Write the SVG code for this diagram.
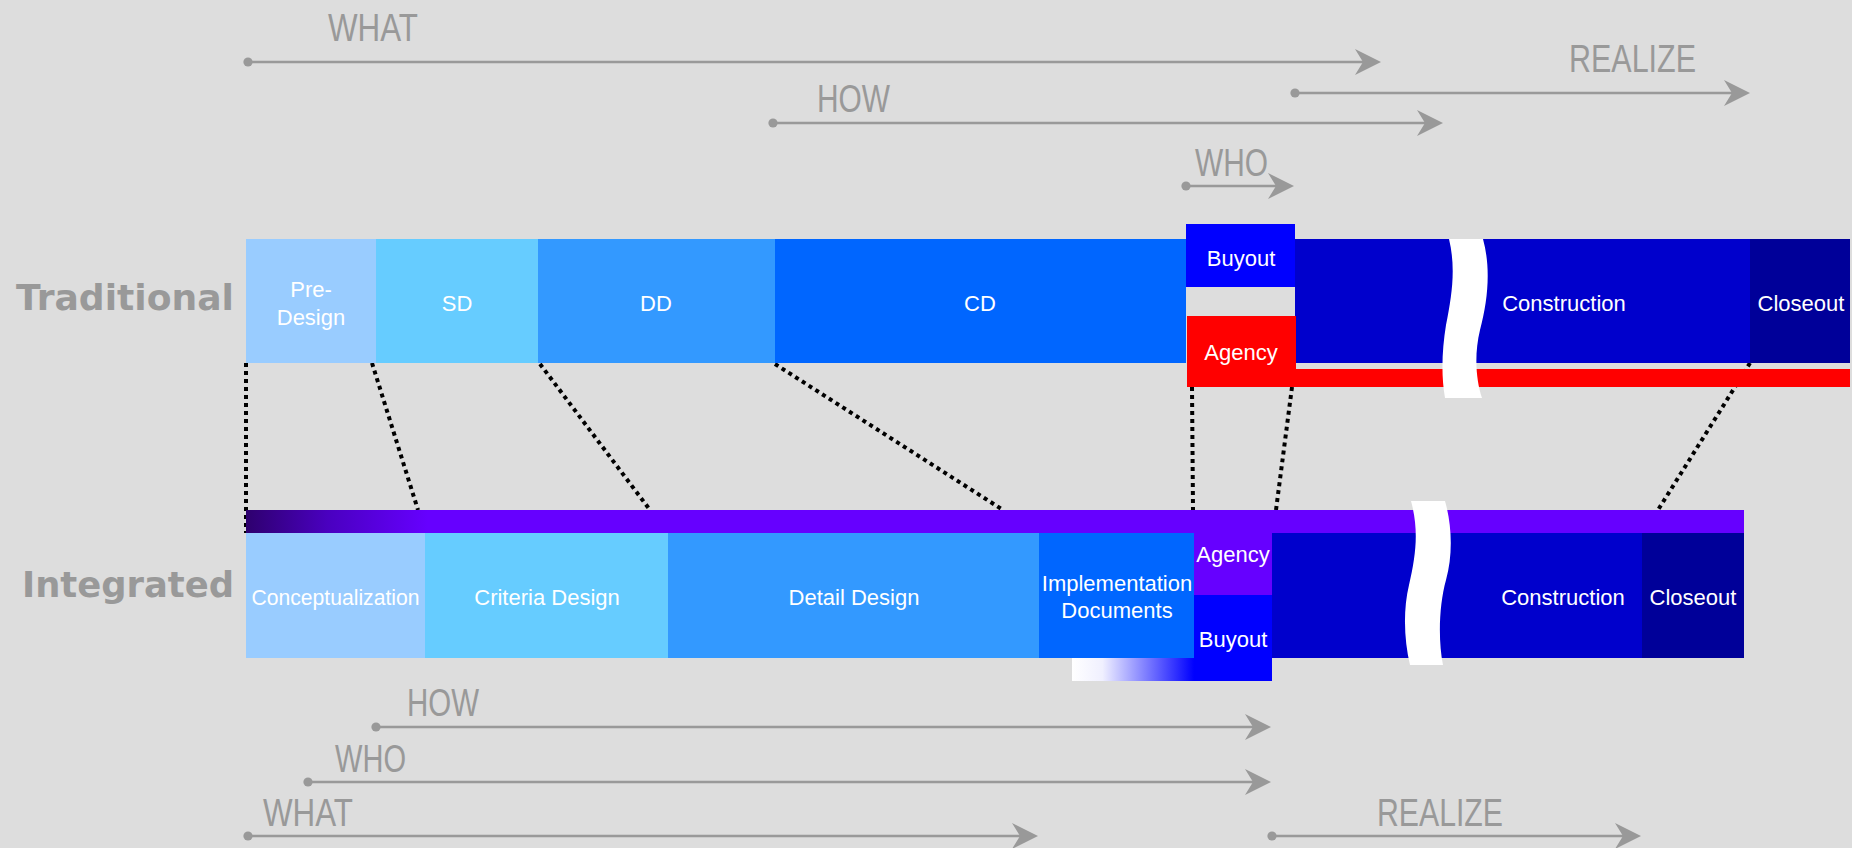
<svg xmlns="http://www.w3.org/2000/svg" width="1852" height="848" viewBox="0 0 1852 848">
<style>
.bg{fill:#DDDDDD}
.dot{fill:none;stroke:#000;stroke-width:4;stroke-dasharray:4 4}
.tl{fill:none;stroke:#999999;stroke-width:2.6;marker-start:url(#dotm);marker-end:url(#arr)}
.tlt{font-family:"Liberation Sans",Arial,sans-serif;font-size:38px;fill:#999999}
.big{font-family:"DejaVu Sans",sans-serif;font-weight:bold;font-size:36px;fill:#999999}
.lb{font-family:"Liberation Sans",Arial,sans-serif;font-size:22px;fill:#FFFFFF;text-anchor:middle}
.brk{fill:#FFFFFF}
</style>
<defs>
<marker id="arr" markerUnits="userSpaceOnUse" viewBox="-27 -14 28 28" markerWidth="28" markerHeight="28" refX="-16" refY="0" orient="auto">
<path d="M0,0 L-26,-13 L-18,0 L-26,13 Z" fill="#999999"/>
</marker>
<marker id="dotm" markerUnits="userSpaceOnUse" viewBox="-6 -6 12 12" markerWidth="12" markerHeight="12" refX="0" refY="0" orient="auto">
<circle cx="0" cy="0" r="4.6" fill="#999999"/>
</marker>
<linearGradient id="purpleGrad" gradientUnits="userSpaceOnUse" x1="246" y1="0" x2="428" y2="0">
<stop offset="0" stop-color="#2E006E"/>
<stop offset="0.45" stop-color="#4A00C0"/>
<stop offset="1" stop-color="#6600FF"/>
</linearGradient>
<linearGradient id="blueGrad" gradientUnits="userSpaceOnUse" x1="1072" y1="0" x2="1194" y2="0">
<stop offset="0" stop-color="#FFFFFF"/>
<stop offset="0.25" stop-color="#F0F0FF"/>
<stop offset="1" stop-color="#0000FF"/>
</linearGradient>
</defs>
<rect class="bg" x="0" y="0" width="1852" height="848"/>

<g id="connectors">
<line class="dot" x1="246" y1="363" x2="246" y2="533"/>
<line class="dot" x1="372" y1="363" x2="418" y2="510"/>
<line class="dot" x1="540" y1="364" x2="650" y2="510"/>
<line class="dot" x1="775" y1="364" x2="1003" y2="510"/>
<line class="dot" x1="1192" y1="387" x2="1193" y2="510"/>
<line class="dot" x1="1292" y1="387" x2="1276" y2="510"/>
<line class="dot" x1="1750" y1="363" x2="1658" y2="510"/>

<g id="timeline-top">
<line class="tl" x1="248" y1="62" x2="1365" y2="62"/>
<text class="tlt" x="328" y="41" textLength="90" lengthAdjust="spacingAndGlyphs">WHAT</text>
<line class="tl" x1="773" y1="123" x2="1427" y2="123"/>
<text class="tlt" x="817" y="112" textLength="73" lengthAdjust="spacingAndGlyphs">HOW</text>
<line class="tl" x1="1295" y1="93" x2="1734" y2="93"/>
<text class="tlt" x="1569" y="72" textLength="127" lengthAdjust="spacingAndGlyphs">REALIZE</text>
<line class="tl" x1="1186" y1="186" x2="1278" y2="186"/>
<text class="tlt" x="1195" y="176" textLength="73" lengthAdjust="spacingAndGlyphs">WHO</text>
</g>
<g id="timeline-bottom">
<line class="tl" x1="376" y1="727" x2="1255" y2="727"/>
<text class="tlt" x="407" y="716" textLength="72" lengthAdjust="spacingAndGlyphs">HOW</text>
<line class="tl" x1="308" y1="782" x2="1255" y2="782"/>
<text class="tlt" x="335" y="772" textLength="71" lengthAdjust="spacingAndGlyphs">WHO</text>
<line class="tl" x1="248" y1="836" x2="1022" y2="836"/>
<text class="tlt" x="263" y="826" textLength="90" lengthAdjust="spacingAndGlyphs">WHAT</text>
<line class="tl" x1="1272" y1="836" x2="1625" y2="836"/>
<text class="tlt" x="1377" y="826" textLength="126" lengthAdjust="spacingAndGlyphs">REALIZE</text>
</g>
</g>

<g id="traditional">
<text class="big" x="16" y="310" textLength="218" lengthAdjust="spacingAndGlyphs">Traditional</text>
<g id="t-predesign"><rect x="246" y="239" width="130" height="124" fill="#99CCFF"/>
<text class="lb" x="311" y="297">Pre-</text><text class="lb" x="311" y="325">Design</text></g>
<g id="t-sd"><rect x="376" y="239" width="162" height="124" fill="#66CCFF"/><text class="lb" x="457" y="311">SD</text></g>
<g id="t-dd"><rect x="538" y="239" width="237" height="124" fill="#3399FF"/><text class="lb" x="656" y="311">DD</text></g>
<g id="t-cd"><rect x="775" y="239" width="411" height="124" fill="#0066FF"/><text class="lb" x="980" y="311">CD</text></g>
<g id="t-buyout"><rect x="1186" y="224" width="109" height="63" fill="#0000FF"/><text class="lb" x="1241" y="266">Buyout</text></g>
<g id="t-construction"><rect x="1295" y="239" width="455" height="124" fill="#0000CC"/><text class="lb" x="1564" y="311">Construction</text></g>
<g id="t-closeout"><rect x="1750" y="239" width="100" height="124" fill="#000099"/><text class="lb" x="1801" y="311">Closeout</text></g>
<g id="t-agency"><rect x="1187" y="316" width="109" height="71" fill="#FF0000"/><rect x="1296" y="369" width="554" height="18" fill="#FF0000"/>
<text class="lb" x="1241" y="360">Agency</text></g>
<path id="t-break" class="brk" d="M1449,239 L1483,239 C1491,268 1488,300 1480,330 C1474,355 1476,380 1482,398 L1445,398 C1441,375 1442,350 1446,325 C1452,295 1456,268 1449,239 Z"/>
</g>

<g id="integrated">
<text class="big" x="22" y="597" textLength="212" lengthAdjust="spacingAndGlyphs">Integrated</text>
<g id="i-topbar"><rect x="246" y="510" width="1498" height="23" fill="#6600FF"/><rect x="246" y="510" width="190" height="23" fill="url(#purpleGrad)"/></g>
<g id="i-conceptualization"><rect x="246" y="533" width="179" height="125" fill="#99CCFF"/><text class="lb" x="335.5" y="605" textLength="168" lengthAdjust="spacingAndGlyphs">Conceptualization</text></g>
<g id="i-criteria"><rect x="425" y="533" width="243" height="125" fill="#66CCFF"/><text class="lb" x="547" y="605">Criteria Design</text></g>
<g id="i-detail"><rect x="668" y="533" width="371" height="125" fill="#3399FF"/><text class="lb" x="854" y="605">Detail Design</text></g>
<g id="i-implementation"><rect x="1039" y="533" width="155" height="125" fill="#0066FF"/><rect x="1072" y="658" width="122" height="23" fill="url(#blueGrad)"/>
<text class="lb" x="1117" y="591">Implementation</text><text class="lb" x="1117" y="618">Documents</text></g>
<g id="i-agency"><rect x="1194" y="533" width="78" height="62" fill="#6600FF"/><text class="lb" x="1233" y="562">Agency</text></g>
<g id="i-buyout"><rect x="1194" y="595" width="78" height="86" fill="#0000FF"/><text class="lb" x="1233" y="647">Buyout</text></g>
<g id="i-construction"><rect x="1272" y="533" width="370" height="125" fill="#0000CC"/><text class="lb" x="1563" y="605">Construction</text></g>
<g id="i-closeout"><rect x="1642" y="533" width="102" height="125" fill="#000099"/><text class="lb" x="1693" y="605">Closeout</text></g>
<path id="i-break" class="brk" d="M1411,501 L1445,501 C1452,525 1453,555 1446,580 C1439,605 1438,640 1443,665 L1410,665 C1404,640 1403,610 1409,585 C1416,555 1419,530 1411,501 Z"/>
</g>
</svg>
